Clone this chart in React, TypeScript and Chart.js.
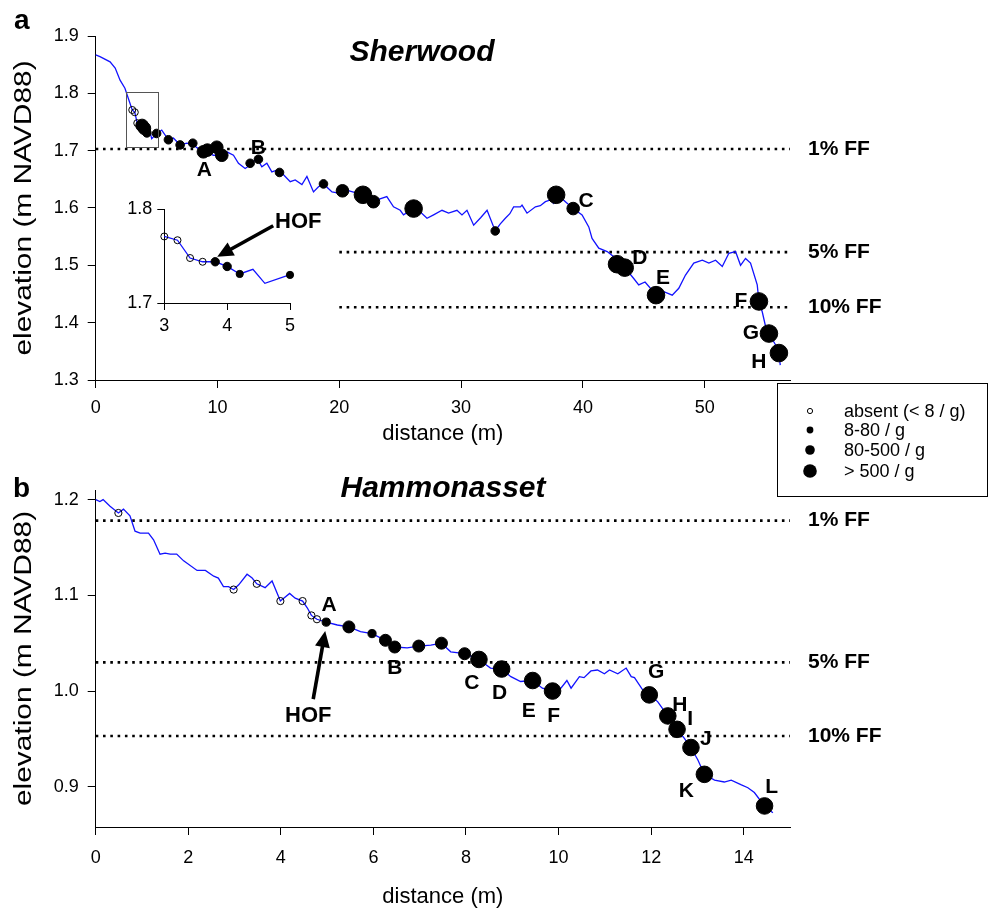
import { useEffect, useRef } from 'react';
import { Chart, registerables } from 'chart.js';

Chart.register(...registerables);

const FONT = '"Liberation Sans", Arial, Helvetica, sans-serif';

// ---------------- Panel a : Sherwood ----------------
const sherwoodProfileX = [
  0, 0.35, 1.18, 1.6, 2.0, 2.4, 2.68, 3.0, 3.21, 3.41,
  3.61, 3.81, 4.0, 4.2, 4.41, 4.6, 4.99, 5.42, 5.97, 6.38,
  6.93, 7.48, 8.02, 8.57, 9.12, 9.66, 10.35, 10.76, 11.31, 11.72,
  12.27, 12.68, 13.23, 13.64, 14.05, 14.46, 14.87, 15.42, 15.97, 16.38,
  16.93, 17.34, 17.88, 18.29, 18.7, 19.4, 19.93, 20.6, 21.45, 22.27,
  22.8, 23.1, 23.9, 24.45, 25.0, 25.27, 26.1, 26.7, 27.2, 27.74,
  28.43, 28.97, 29.66, 30.07, 30.48, 31.03, 31.6, 32.13, 32.8, 33.2,
  33.63, 34.0, 34.31, 34.87, 35.0, 35.41, 36.1, 36.5, 36.92, 37.33,
  37.6, 37.88, 38.2, 38.56, 39.2, 39.93, 40.48, 40.75, 41.3, 41.99,
  42.53, 42.8, 43.43, 44.17, 44.58, 45.1, 45.54, 46.0, 46.64, 47.33,
  47.87, 48.42, 49.1, 49.8, 50.34, 50.89, 51.44, 51.98, 52.53, 52.94,
  53.35, 53.76, 54.31, 54.45, 54.72, 55.0, 55.27, 55.82, 56.09, 56.2,
];
const sherwoodProfileY = [
  1.867, 1.864, 1.855, 1.844, 1.823, 1.809, 1.791, 1.771, 1.767, 1.748,
  1.744, 1.744, 1.739, 1.731, 1.736, 1.721, 1.730, 1.736, 1.719, 1.722,
  1.710, 1.713, 1.710, 1.701, 1.698, 1.692, 1.692, 1.698, 1.692, 1.678,
  1.669, 1.675, 1.687, 1.672, 1.678, 1.663, 1.666, 1.658, 1.646, 1.649,
  1.641, 1.655, 1.628, 1.637, 1.642, 1.628, 1.626, 1.631, 1.626, 1.617,
  1.611, 1.614, 1.620, 1.602, 1.596, 1.588, 1.599, 1.592, 1.582, 1.588,
  1.596, 1.591, 1.596, 1.588, 1.596, 1.570, 1.583, 1.596, 1.560, 1.572,
  1.582, 1.590, 1.602, 1.602, 1.605, 1.591, 1.602, 1.604, 1.611, 1.614,
  1.608, 1.620, 1.618, 1.611, 1.599, 1.588, 1.567, 1.547, 1.530, 1.524,
  1.515, 1.502, 1.496, 1.477, 1.466, 1.471, 1.460, 1.452, 1.454, 1.448,
  1.460, 1.483, 1.504, 1.509, 1.504, 1.509, 1.498, 1.521, 1.524, 1.500,
  1.512, 1.504, 1.466, 1.437, 1.419, 1.393, 1.381, 1.361, 1.347, 1.326,
];
// density class: 0 absent, 1 8-80/g, 2 80-500/g, 3 >500/g
const sherwoodSampleX = [
  3.0, 3.21, 3.41, 3.61, 3.81, 4.0, 4.2, 5.0, 5.97, 6.93,
  7.97, 8.84, 9.17, 9.94, 10.35, 12.68, 13.36, 15.09, 18.7, 20.26,
  21.94, 22.8, 26.1, 32.8, 37.8, 39.2, 42.8, 43.43, 46.0, 54.45,
  55.27, 56.09,
];
const sherwoodSampleY = [
  1.771, 1.767, 1.748, 1.744, 1.744, 1.739, 1.731, 1.730, 1.719, 1.710,
  1.713, 1.698, 1.701, 1.706, 1.692, 1.678, 1.685, 1.662, 1.642, 1.630,
  1.623, 1.611, 1.599, 1.560, 1.623, 1.599, 1.502, 1.496, 1.448, 1.437,
  1.381, 1.347,
];
const sherwoodSampleClass = [
  0, 0, 0, 0, 2, 2, 1, 1, 1, 1,
  1, 2, 2, 2, 2, 1, 1, 1, 1, 2,
  3, 2, 3, 1, 3, 2, 3, 3, 3, 3,
  3, 3,
];
const sherwoodLetters = ['A', 'B', 'C', 'D', 'E', 'F', 'G', 'H'];
const sherwoodLetterSample = [12, 16, 25, 27, 28, 29, 30, 31];
const sherwoodFloodLevels = [1.703, 1.523, 1.427];
const sherwoodFloodStart = [0, 20, 20];
const sherwoodXTicks = [0, 10, 20, 30, 40, 50];
const sherwoodYTicks = [1.3, 1.4, 1.5, 1.6, 1.7, 1.8, 1.9];
const sherwoodInsetXTicks = [3, 4, 5];
const sherwoodInsetYTicks = [1.7, 1.8];
const sherwoodInsetBoxX = [2.5, 5.15];
const sherwoodInsetBoxY = [1.707, 1.803];
const sherwoodHofSample = 4;

// ---------------- Panel b : Hammonasset ----------------
const hammoProfileX = [
  0, 0.09, 0.16, 0.31, 0.49, 0.6, 0.74, 0.85, 0.96, 1.14,
  1.25, 1.39, 1.5, 1.61, 1.75, 1.9, 2.19, 2.37, 2.55, 2.65,
  2.76, 2.87, 2.98, 3.09, 3.27, 3.38, 3.48, 3.66, 3.81, 3.99,
  4.19, 4.31, 4.47, 4.57, 4.66, 4.78, 4.98, 5.22, 5.47, 5.72,
  5.97, 6.26, 6.46, 6.73, 6.98, 7.24, 7.47, 7.67, 7.97, 8.28,
  8.53, 8.77, 8.97, 9.18, 9.44, 9.65, 9.87, 10.05, 10.18, 10.27,
  10.45, 10.55, 10.7, 10.84, 10.99, 11.1, 11.28, 11.46, 11.57, 11.64,
  11.82, 11.96, 12.14, 12.36, 12.56, 12.71, 12.86, 13.01, 13.15, 13.37,
  13.58, 13.73, 13.95, 14.09, 14.23, 14.45, 14.63,
];
const hammoProfileY = [
  1.200, 1.198, 1.200, 1.193, 1.186, 1.190, 1.183, 1.167, 1.165, 1.165,
  1.158, 1.143, 1.144, 1.143, 1.143, 1.136, 1.126, 1.126, 1.120, 1.118,
  1.109, 1.109, 1.106, 1.111, 1.122, 1.118, 1.112, 1.108, 1.115, 1.094,
  1.102, 1.097, 1.094, 1.087, 1.079, 1.075, 1.072, 1.069, 1.067, 1.062,
  1.060, 1.053, 1.046, 1.045, 1.047, 1.048, 1.050, 1.041, 1.039, 1.033,
  1.024, 1.023, 1.015, 1.010, 1.011, 1.003, 1.000, 1.003, 1.011, 1.003,
  1.015, 1.014, 1.021, 1.022, 1.018, 1.022, 1.018, 1.024, 1.015, 1.014,
  1.001, 0.996, 0.989, 0.974, 0.960, 0.951, 0.941, 0.928, 0.913, 0.907,
  0.905, 0.907, 0.902, 0.899, 0.894, 0.880, 0.873,
];
const hammoSampleX = [
  0.49, 2.98, 3.48, 3.99, 4.47, 4.66, 4.78, 4.98, 5.47, 5.97,
  6.26, 6.46, 6.98, 7.47, 7.97, 8.28, 8.77, 9.44, 9.87, 11.96,
  12.36, 12.56, 12.86, 13.15, 14.45,
];
const hammoSampleY = [
  1.186, 1.106, 1.112, 1.094, 1.094, 1.079, 1.075, 1.072, 1.067, 1.060,
  1.053, 1.046, 1.047, 1.050, 1.039, 1.033, 1.023, 1.011, 1.000, 0.996,
  0.974, 0.960, 0.941, 0.913, 0.880,
];
const hammoSampleClass = [
  0, 0, 0, 0, 0, 0, 0, 1, 2, 1,
  2, 2, 2, 2, 2, 3, 3, 3, 3, 3,
  3, 3, 3, 3, 3,
];
const hammoLetters = ['A', 'B', 'C', 'D', 'E', 'F', 'G', 'H', 'I', 'J', 'K', 'L'];
const hammoLetterSample = [7, 11, 15, 16, 17, 18, 19, 20, 21, 22, 23, 24];
const hammoFloodLevels = [1.178, 1.03, 0.953];
const hammoFloodStart = [0, 0, 0];
const hammoXTicks = [0, 2, 4, 6, 8, 10, 12, 14];
const hammoYTicks = [0.9, 1.0, 1.1, 1.2];
const hammoHofSample = 7;

const floodLabels = ['1% FF', '5% FF', '10% FF'];
const densityLabels = ['absent (< 8 / g)', '8-80 / g', '80-500 / g', '> 500 / g'];
const yAxisTitle = 'elevation (m NAVD88)';
const xAxisTitle = 'distance (m)';

// ---------------- styling (pixels) ----------------
const sherwoodRadius = [3.5, 4.3, 6.3, 8.8];
const hammoRadius = [3.6, 4.1, 6.0, 8.3];
const insetRadius = [3.5, 3.6, 4.2, 4.2];
const legendRadius = [2.6, 3.4, 4.8, 6.8];
const sherwoodLetterOffset = [[-3, 20], [0, -11], [13, -7], [15, -9], [7, -17], [-18, 0], [-18, 0], [-20, 9]];
const hammoLetterOffset = [[3, -17], [0, 21], [-7, 24], [-2, 24], [-4, 31], [1, 25], [7, -23], [12, -11], [13, -10], [15, -8], [-18, 17], [7, -19]];

const BLUE = '#1212ff';

function pts(xs: number[], ys: number[]) {
  return xs.map((x, i) => ({ x, y: ys[i] }));
}

function scalesFor(o: any) {
  const grid = { display: true, drawOnChartArea: false, drawTicks: true, tickLength: o.tickLen, color: '#000', lineWidth: 1 };
  const border = { display: true, color: '#000', width: 1 };
  return {
    x: {
      type: 'linear',
      min: o.xMin,
      max: o.xMax,
      afterBuildTicks: (s: any) => { s.ticks = o.xTicks.map((v: number) => ({ value: v })); },
      afterFit: (s: any) => { s.height = o.xAxisH; },
      grid,
      border,
      ticks: { color: '#000', font: { family: FONT, size: o.tickSize }, padding: o.xPad, maxRotation: 0, autoSkip: false, callback: (v: any) => String(v) },
      title: o.xTitle
        ? { display: true, text: o.xTitle, color: '#000', font: { family: FONT, size: 22 }, padding: { top: 0, bottom: o.xTitlePad } }
        : { display: false },
    },
    y: {
      type: 'linear',
      min: o.yMin,
      max: o.yMax,
      afterBuildTicks: (s: any) => { s.ticks = o.yTicks.map((v: number) => ({ value: v })); },
      afterFit: (s: any) => { s.width = o.yAxisW; },
      grid,
      border,
      ticks: { color: '#000', font: { family: FONT, size: o.tickSize }, padding: o.yPad, autoSkip: false, callback: (v: any) => Number(v).toFixed(1) },
      title: { display: false },
    },
  };
}

function sampleDataset(xs: number[], ys: number[], cls: number[], radius: number[]) {
  return {
    label: 'samples',
    data: pts(xs, ys),
    showLine: false,
    pointRadius: cls.map((c) => radius[c]),
    pointHoverRadius: cls.map((c) => radius[c]),
    pointBackgroundColor: cls.map((c) => (c === 0 ? 'rgba(255,255,255,0)' : '#000')),
    pointBorderColor: '#000',
    pointBorderWidth: 1,
    clip: false,
    order: 1,
  };
}

function profileDataset(xs: number[], ys: number[]) {
  return {
    label: 'profile',
    data: pts(xs, ys),
    showLine: true,
    borderColor: BLUE,
    borderWidth: 1.3,
    pointRadius: 0,
    tension: 0,
    clip: false,
    order: 2,
  };
}

function floodDatasets(levels: number[], starts: number[], xMax: number) {
  return levels.map((lv, i) => ({
    label: floodLabels[i],
    data: [{ x: starts[i], y: lv }, { x: xMax, y: lv }],
    showLine: true,
    borderColor: '#000',
    borderWidth: 2.6,
    borderDash: [2.6, 4.7],
    pointRadius: 0,
    order: 3,
  }));
}

function drawArrow(ctx: CanvasRenderingContext2D, x0: number, y0: number, x1: number, y1: number) {
  const dx = x1 - x0, dy = y1 - y0;
  const len = Math.hypot(dx, dy);
  const ux = dx / len, uy = dy / len;
  const headLen = 16, headW = 15;
  const bx = x1 - ux * headLen, by = y1 - uy * headLen;
  ctx.save();
  ctx.strokeStyle = '#000';
  ctx.fillStyle = '#000';
  ctx.lineWidth = 3.6;
  ctx.beginPath();
  ctx.moveTo(x0, y0);
  ctx.lineTo(bx + ux * 2, by + uy * 2);
  ctx.stroke();
  ctx.beginPath();
  ctx.moveTo(x1, y1);
  ctx.lineTo(bx - uy * headW / 2, by + ux * headW / 2);
  ctx.lineTo(bx + uy * headW / 2, by - ux * headW / 2);
  ctx.closePath();
  ctx.fill();
  ctx.restore();
}

function drawYTitle(chart: any) {
  const { ctx, chartArea } = chart;
  const cy = (chartArea.top + chartArea.bottom) / 2;
  ctx.save();
  ctx.translate(25, cy);
  ctx.rotate(-Math.PI / 2);
  ctx.scale(1.3, 1);
  ctx.font = `23px ${FONT}`;
  ctx.textAlign = 'center';
  ctx.textBaseline = 'middle';
  ctx.fillStyle = '#000';
  ctx.fillText(yAxisTitle, 0, 0);
  ctx.restore();
}

function drawLetters(chart: any, letters: string[], idx: number[], xs: number[], ys: number[], offs: number[][]) {
  const { ctx } = chart;
  const sx = chart.scales.x, sy = chart.scales.y;
  ctx.font = `bold 21px ${FONT}`;
  ctx.textAlign = 'center';
  ctx.textBaseline = 'middle';
  ctx.fillStyle = '#000';
  letters.forEach((L, i) => {
    const k = idx[i];
    ctx.fillText(L, sx.getPixelForValue(xs[k]) + offs[i][0], sy.getPixelForValue(ys[k]) + offs[i][1]);
  });
}

function drawFloodLabels(chart: any, levels: number[]) {
  const { ctx } = chart;
  const sy = chart.scales.y;
  ctx.font = `bold 21px ${FONT}`;
  ctx.textAlign = 'left';
  ctx.textBaseline = 'middle';
  ctx.fillStyle = '#000';
  levels.forEach((lv, i) => ctx.fillText(floodLabels[i], 808, sy.getPixelForValue(lv)));
}

const sherwoodDecor = {
  id: 'sherwoodDecor',
  afterDraw(chart: any) {
    const { ctx } = chart;
    const sx = chart.scales.x, sy = chart.scales.y;
    ctx.save();
    ctx.fillStyle = '#000';
    ctx.font = `bold 28px ${FONT}`;
    ctx.textAlign = 'left';
    ctx.textBaseline = 'alphabetic';
    ctx.fillText('a', 14, 29);
    ctx.font = `italic bold 30px ${FONT}`;
    ctx.textAlign = 'center';
    ctx.fillText('Sherwood', 422, 61);
    drawYTitle(chart);
    drawFloodLabels(chart, sherwoodFloodLevels);
    drawLetters(chart, sherwoodLetters, sherwoodLetterSample, sherwoodSampleX, sherwoodSampleY, sherwoodLetterOffset);
    // inset frame
    const x0 = sx.getPixelForValue(sherwoodInsetBoxX[0]);
    const x1 = sx.getPixelForValue(sherwoodInsetBoxX[1]);
    const y0 = sy.getPixelForValue(sherwoodInsetBoxY[1]);
    const y1 = sy.getPixelForValue(sherwoodInsetBoxY[0]);
    ctx.strokeStyle = '#555';
    ctx.lineWidth = 1;
    ctx.strokeRect(Math.round(x0) + 0.5, Math.round(y0) + 0.5, Math.round(x1 - x0), Math.round(y1 - y0));
    // legend
    ctx.strokeStyle = '#000';
    ctx.strokeRect(777.5, 383.5, 210, 113);
    const rows = [411, 430, 450, 471];
    ctx.font = `18px ${FONT}`;
    ctx.textAlign = 'left';
    ctx.textBaseline = 'middle';
    densityLabels.forEach((t, i) => {
      ctx.beginPath();
      ctx.arc(810, rows[i], legendRadius[i], 0, Math.PI * 2);
      if (i === 0) {
        ctx.fillStyle = '#fff';
        ctx.fill();
        ctx.lineWidth = 1;
        ctx.strokeStyle = '#000';
        ctx.stroke();
      } else {
        ctx.fillStyle = '#000';
        ctx.fill();
      }
      ctx.fillStyle = '#000';
      ctx.fillText(t, 844, rows[i] + 1);
    });
    ctx.restore();
  },
};

const hammoDecor = {
  id: 'hammoDecor',
  afterDraw(chart: any) {
    const { ctx } = chart;
    const sx = chart.scales.x, sy = chart.scales.y;
    ctx.save();
    ctx.fillStyle = '#000';
    ctx.font = `bold 28px ${FONT}`;
    ctx.textAlign = 'left';
    ctx.textBaseline = 'alphabetic';
    ctx.fillText('b', 13, 27);
    ctx.font = `italic bold 30px ${FONT}`;
    ctx.textAlign = 'center';
    ctx.fillText('Hammonasset', 443, 27);
    drawYTitle(chart);
    drawFloodLabels(chart, hammoFloodLevels);
    drawLetters(chart, hammoLetters, hammoLetterSample, hammoSampleX, hammoSampleY, hammoLetterOffset);
    const px = sx.getPixelForValue(hammoSampleX[hammoHofSample]);
    const py = sy.getPixelForValue(hammoSampleY[hammoHofSample]);
    drawArrow(ctx, px - 13, py + 77, px - 1, py + 9);
    ctx.font = `bold 22px ${FONT}`;
    ctx.textAlign = 'center';
    ctx.textBaseline = 'middle';
    ctx.fillText('HOF', px - 18, py + 94);
    ctx.restore();
  },
};

const insetDecor = {
  id: 'insetDecor',
  afterDraw(chart: any) {
    const { ctx } = chart;
    const sx = chart.scales.x, sy = chart.scales.y;
    const px = sx.getPixelForValue(sherwoodSampleX[sherwoodHofSample]);
    const py = sy.getPixelForValue(sherwoodSampleY[sherwoodHofSample]);
    ctx.save();
    drawArrow(ctx, px + 58, py - 36, px + 2, py - 5);
    ctx.fillStyle = '#000';
    ctx.font = `bold 22px ${FONT}`;
    ctx.textAlign = 'center';
    ctx.textBaseline = 'middle';
    ctx.fillText('HOF', px + 83, py - 40);
    ctx.restore();
  },
};

export default function App() {
  const aRef = useRef<HTMLCanvasElement>(null);
  const bRef = useRef<HTMLCanvasElement>(null);
  const iRef = useRef<HTMLCanvasElement>(null);

  useEffect(() => {
    const common = {
      responsive: false,
      animation: false,
      devicePixelRatio: 1,
      events: [],
    };
    const chartA = new Chart(aRef.current as HTMLCanvasElement, {
      type: 'scatter',
      data: {
        datasets: [
          sampleDataset(sherwoodSampleX, sherwoodSampleY, sherwoodSampleClass, sherwoodRadius),
          profileDataset(sherwoodProfileX, sherwoodProfileY),
          ...floodDatasets(sherwoodFloodLevels, sherwoodFloodStart, 57),
        ],
      } as any,
      options: {
        ...common,
        layout: { padding: { left: 0, top: 36, right: 200, bottom: 50 } },
        plugins: { legend: { display: false }, tooltip: { enabled: false } },
        scales: scalesFor({
          xMin: 0, xMax: 57, yMin: 1.3, yMax: 1.9,
          xTicks: sherwoodXTicks, yTicks: sherwoodYTicks,
          xTitle: xAxisTitle,
          xAxisH: 70, yAxisW: 95.7, tickLen: 8, tickSize: 18, xPad: 9, yPad: 9, xTitlePad: 3,
        }),
      } as any,
      plugins: [sherwoodDecor],
    });

    const inRange = (x: number) => x >= 2.95 && x <= 5.05;
    const insetProfileX = sherwoodProfileX.filter((x) => inRange(x));
    const insetProfileY = sherwoodProfileY.filter((_, i) => inRange(sherwoodProfileX[i]));
    const insetIdx = sherwoodSampleX.map((x, i) => (inRange(x) ? i : -1)).filter((i) => i >= 0);
    const chartI = new Chart(iRef.current as HTMLCanvasElement, {
      type: 'scatter',
      data: {
        datasets: [
          sampleDataset(
            insetIdx.map((i) => sherwoodSampleX[i]),
            insetIdx.map((i) => sherwoodSampleY[i]),
            insetIdx.map((i) => sherwoodSampleClass[i]),
            insetRadius,
          ),
          profileDataset(insetProfileX, insetProfileY),
        ],
      } as any,
      options: {
        ...common,
        layout: { padding: { left: 0, top: 29.3, right: 50, bottom: 7 } },
        plugins: { legend: { display: false }, tooltip: { enabled: false } },
        scales: scalesFor({
          xMin: 3, xMax: 5, yMin: 1.7, yMax: 1.8,
          xTicks: sherwoodInsetXTicks, yTicks: sherwoodInsetYTicks,
          xAxisH: 40, yAxisW: 64.3, tickLen: 7, tickSize: 18, xPad: 5, yPad: 5, xTitlePad: 0,
        }),
      } as any,
      plugins: [insetDecor],
    });

    const chartB = new Chart(bRef.current as HTMLCanvasElement, {
      type: 'scatter',
      data: {
        datasets: [
          sampleDataset(hammoSampleX, hammoSampleY, hammoSampleClass, hammoRadius),
          profileDataset(hammoProfileX, hammoProfileY),
          ...floodDatasets(hammoFloodLevels, hammoFloodStart, 15),
        ],
      } as any,
      options: {
        ...common,
        layout: { padding: { left: 0, top: 20, right: 200, bottom: 0 } },
        plugins: { legend: { display: false }, tooltip: { enabled: false } },
        scales: scalesFor({
          xMin: 0, xMax: 15, yMin: 0.858, yMax: 1.21,
          xTicks: hammoXTicks, yTicks: hammoYTicks,
          xTitle: xAxisTitle,
          xAxisH: 86, yAxisW: 95.7, tickLen: 8, tickSize: 18, xPad: 12, yPad: 9, xTitlePad: 3,
        }),
      } as any,
      plugins: [hammoDecor],
    });

    return () => {
      chartA.destroy();
      chartI.destroy();
      chartB.destroy();
    };
  }, []);

  return (
    <div style={{ position: 'absolute', left: 0, top: 0, width: 990, height: 913, background: '#fff', overflow: 'hidden' }}>
      <canvas ref={aRef} width={990} height={500} style={{ position: 'absolute', left: 0, top: 0 }} />
      <canvas ref={bRef} width={990} height={443} style={{ position: 'absolute', left: 0, top: 470 }} />
      <canvas ref={iRef} width={240} height={170} style={{ position: 'absolute', left: 100, top: 180 }} />
    </div>
  );
}
